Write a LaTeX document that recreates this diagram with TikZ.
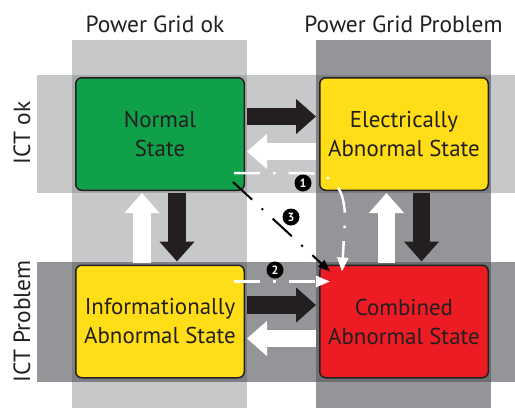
\documentclass[tikz,border=0pt]{standalone}
\usepackage{fontspec}
\setmainfont{PT Sans}
\usetikzlibrary{arrows.meta,calc}
\definecolor{lgray}{HTML}{C7C8CA}
\definecolor{dgray}{HTML}{939598}
\definecolor{llgray}{HTML}{A8AAAC}
\definecolor{ldgray}{HTML}{7E7F82}
\definecolor{ddgray}{HTML}{6D6E71}
\definecolor{txt}{HTML}{231F20}
\definecolor{sgreen}{HTML}{10A049}
\definecolor{syellow}{HTML}{FFDD17}
\definecolor{sred}{HTML}{ED1C24}
\begin{document}
\begin{tikzpicture}[x=1pt,y=-1pt,
  statebox/.style={draw=txt, line width=1.5pt, rounded corners=6pt,
    minimum width=168.5pt, minimum height=112.5pt, align=center,
    font=\fontsize{22.9}{29}\selectfont, text=txt, inner sep=0pt},
  blk/.style={draw=txt, line width=17.5pt, -{Triangle[length=20pt,width=34pt]}},
  wht/.style={draw=white, line width=17.5pt, -{Triangle[length=20pt,width=34pt]}},
  ddw/.style={draw=white, line width=2.5pt, dash pattern=on 26pt off 13pt on 2.5pt off 13pt,
    -{Triangle[length=14pt,width=11pt]}},
  ddb/.style={draw=black, line width=2pt, dash pattern=on 26pt off 13pt on 2pt off 13pt,
    -{Triangle[length=12pt,width=9pt]}},
  numlab/.style={circle, fill=black, text=white, inner sep=0pt, minimum size=17pt,
    font=\bfseries\fontsize{12}{12}\selectfont},
  hdr/.style={font=\fontsize{23.4}{26}\selectfont, text=txt}
]
\useasboundingbox (0,0) rectangle (515,408);
% bands
\fill[lgray] (72,40) rectangle (247,408);
\fill[dgray] (316,40) rectangle (491,408);
\fill[lgray] (37,75) rectangle (515,193);
\fill[dgray] (37,262) rectangle (515,382);
\fill[llgray] (72,75) rectangle (247,193);
\fill[ldgray] (316,75) rectangle (491,193);
\fill[ldgray] (72,262) rectangle (247,382);
\fill[ddgray] (316,262) rectangle (491,382);
% headers
\node[hdr, anchor=base] (h1) at (155,32) {Power Grid ok};
\node[hdr, anchor=base] (h2) at (403.5,32) {Power Grid Problem};
\node[hdr, rotate=90] (v1) at (22,133) {ICT ok};
\node[hdr, rotate=90] (v2) at (22,321.5) {ICT Problem};
% states
\node[statebox, fill=sgreen] (nrm) at (160,134) {Normal\\State};
\node[statebox, fill=syellow] (ele) at (404,134) {Electrically\\Abnormal State};
\node[statebox, fill=syellow] (inf) at (160,321.5) {Informationally\\Abnormal State};
\node[statebox, fill=sred] (cmb) at (404,321.5) {Combined\\Abnormal State};
% block arrows
\draw[blk] ([xshift=2pt,yshift=17.5pt]nrm.east) -- ([xshift=-3pt,yshift=17.5pt]ele.west);
\draw[wht] ([xshift=-3pt,yshift=-17.5pt]ele.west) -- ([xshift=2pt,yshift=-17.5pt]nrm.east);
\draw[blk] ([xshift=2pt,yshift=16.5pt]inf.east) -- ([xshift=-3pt,yshift=16.5pt]cmb.west);
\draw[wht] ([xshift=-3pt,yshift=-17pt]cmb.west) -- ([xshift=2pt,yshift=-17pt]inf.east);
\draw[wht] ([xshift=-18pt,yshift=2pt]inf.north) -- ([xshift=-18pt,yshift=-2pt]nrm.south);
\draw[blk] ([xshift=17pt,yshift=-2pt]nrm.south) -- ([xshift=17pt,yshift=3pt]inf.north);
\draw[wht] ([xshift=-17.5pt,yshift=2pt]cmb.north) -- ([xshift=-17.5pt,yshift=-2pt]ele.south);
\draw[blk] ([xshift=17.5pt,yshift=-2pt]ele.south) -- ([xshift=17.5pt,yshift=3pt]cmb.north);
% dash-dot transitions
\coordinate (s1) at ($(nrm.south east)+(-11,-18)$);
\coordinate (s2) at ($(inf.north east)+(-11,17)$);
\coordinate (s3) at ($(nrm.south east)+(-12,-9)$);
\coordinate (e1) at ($(cmb.north west)+(23,7)$);
\coordinate (e2) at ($(cmb.north west)+(11,17)$);
\coordinate (e3) at ($(cmb.north west)+(11,7)$);
\draw[ddw] (s1) -- ++(71,0) .. controls +(30,0) and +(0,-30) .. ($(e1)+(3,-52)$) -- (e1);
\draw[ddw] (s2) -- (e2);
\draw[ddb] (s3) -- (e3);
\node[numlab] (n1) at (303,183) {1};
\node[numlab] (n2) at (275,270) {2};
\node[numlab] (n3) at (291,217) {3};
\end{tikzpicture}
\end{document}
